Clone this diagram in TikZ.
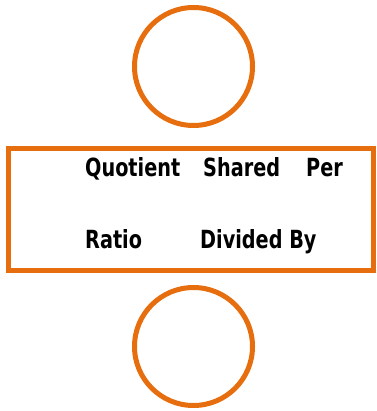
\documentclass[tikz,border=0pt]{standalone}
\usepackage{fontspec}
\newfontfamily\cf[FakeStretch=0.77]{DejaVu Sans}
\definecolor{org}{RGB}{230,110,15}
\begin{document}
\begin{tikzpicture}[x=1pt,y=-1pt,
  ring/.style={draw=org,line width=5pt},
  lbl/.style={anchor=base west,inner sep=0pt,font=\cf\bfseries\fontsize{25}{27}\selectfont}]
\useasboundingbox (0,0) rectangle (376,411);
\node[ring,circle,minimum size=118pt,inner sep=0pt] (top) at (193.5,66.5) {};
\node[ring,circle,minimum size=118pt,inner sep=0pt] (bot) at (193.5,346.5) {};
\node[ring,rectangle,minimum width=365pt,minimum height=122pt,inner sep=0pt] (box) at (191,209.5) {};
\node[lbl] (q) at (85,177) {Quotient};
\node[lbl] (s) at (203,177) {Shared};
\node[lbl] (p) at (306,177) {Per};
\node[lbl] (r) at (85,248) {Ratio};
\node[lbl] (d) at (200,248) {Divided By};
\end{tikzpicture}
\end{document}
